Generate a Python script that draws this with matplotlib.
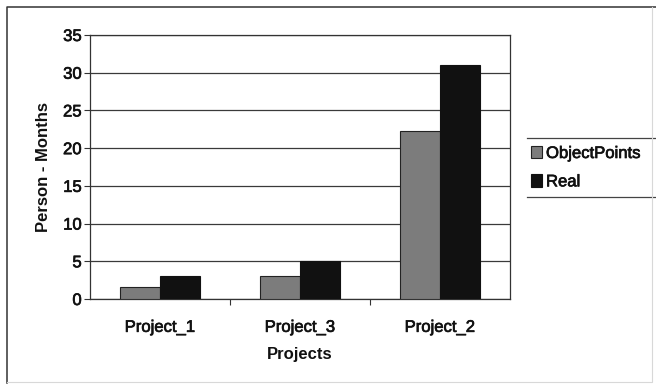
import matplotlib
matplotlib.use("Agg")
import matplotlib.pyplot as plt
import matplotlib.patheffects as pe
import numpy as np
from matplotlib.lines import Line2D

projects = ["Project_1", "Project_3", "Project_2"]
object_points = [1.6, 3.0, 22.3]
real = [3.0, 5.0, 31.0]
y_ticks = [0, 5, 10, 15, 20, 25, 30, 35]

plt.rcParams['font.family'] = ['Liberation Sans', 'DejaVu Sans']
heavy = [pe.withStroke(linewidth=0.5, foreground="#111111")]

fig = plt.figure(figsize=(6.56, 3.85), dpi=100)
W, H = 656, 385
ax = fig.add_axes([90 / W, 1 - 299 / H, 420 / W, 264 / H])

x = np.arange(len(projects))
bw = 0.286
ax.bar(x - bw / 2, object_points, bw, color="#7c7c7c", edgecolor="#222222",
       linewidth=0.8, label="ObjectPoints", zorder=3)
ax.bar(x + bw / 2, real, bw, color="#111111", edgecolor="#111111",
       linewidth=0.8, label="Real", zorder=3)

ax.set_xlim(-0.5, len(projects) - 0.5)
ax.set_ylim(0, 35)
ax.set_yticks(y_ticks)
ax.set_xticks(x)
ax.set_xticklabels(projects)
ax.set_xticks([0.5, 1.5], minor=True)
ax.tick_params(axis='x', which='major', length=0, pad=15, labelsize=12,
               labelcolor="#111111")
ax.tick_params(axis='x', which='minor', length=4, width=0.8, color="#333333")
ax.tick_params(axis='y', length=4, width=0.8, labelsize=12, pad=2,
               color="#333333", labelcolor="#111111")
for lbl in ax.get_xticklabels() + ax.get_yticklabels():
    lbl.set_path_effects(heavy)
ax.yaxis.grid(True, color="#3a3a3a", linewidth=0.9, zorder=0)
for s in ax.spines.values():
    s.set_color("#333333")
    s.set_linewidth(0.9)

ax.set_ylabel("Person - Months", fontsize=12, fontweight='bold',
              labelpad=9, color="#111111")
ax.set_xlabel("Projects", fontsize=12, fontweight='bold', labelpad=9,
              color="#111111")

leg = fig.legend(loc='upper left', bbox_to_anchor=(531 / W, 1 - 146 / H),
                 frameon=False, fontsize=12, handlelength=0.65,
                 handleheight=0.75, handletextpad=0.25, borderpad=0,
                 labelspacing=0.8, borderaxespad=0)
for t in leg.get_texts():
    t.set_color("#111111")
    t.set_path_effects(heavy)

# legend rules above and below the entries
for yy in (138, 197):
    fig.add_artist(Line2D([527 / W, 1.0], [1 - yy / H, 1 - yy / H],
                          transform=fig.transFigure, color="#444444",
                          linewidth=0.9))

# outer chart frame: strong top/left, faint bottom/right
fig.add_artist(Line2D([7 / W, 7 / W, 656 / W], [2 / H, 1 - 7 / H, 1 - 7 / H],
                      transform=fig.transFigure, color="#333333", linewidth=1.1))
fig.add_artist(Line2D([7 / W, 652 / W, 652 / W], [3 / H, 3 / H, 1 - 7 / H],
                      transform=fig.transFigure, color="#d8d8d8", linewidth=0.8))

fig.savefig("out.png", dpi=100)
